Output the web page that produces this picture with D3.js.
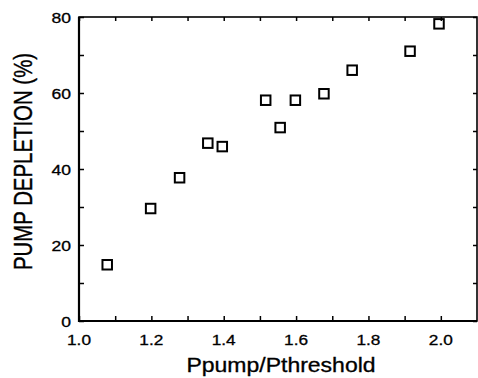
<!DOCTYPE html>
<html>
<head>
<meta charset="utf-8">
<script src="https://cdn.jsdelivr.net/npm/d3@7"></script>
<style>
  body { margin: 0; background: #fff; }
  svg { display: block; font-family: "Liberation Sans", Arial, sans-serif; }
  text { stroke: #000; stroke-width: 0.3; }
</style>
</head>
<body>
<svg></svg>
<script>
// data
var ratio     = [1.078, 1.198, 1.278, 1.356, 1.396, 1.516, 1.556, 1.598, 1.677, 1.755, 1.915, 1.995];
var depletion = [14.8, 29.6, 37.7, 46.8, 45.9, 58.1, 50.9, 58.1, 59.8, 66.0, 71.0, 78.2];
var xTicks = [1.0, 1.2, 1.4, 1.6, 1.8, 2.0];
var yTicks = [0, 20, 40, 60, 80];

var W = 478, H = 378;
var svg = d3.select("svg").attr("width", W).attr("height", H);

var x = d3.scaleLinear().domain([1.0, 2.1]).range([79, 477]);
var y = d3.scaleLinear().domain([0, 80]).range([321, 17]);

var xMinor = d3.range(10, 21).map(function(d){ return d / 10; });
var yMinor = d3.range(0, 81, 10);

function clean(g){
    g.select(".domain").remove();
    g.selectAll("line").attr("stroke-width", 1.5);
}

// inward ticks on all four sides
svg.append("g").attr("transform", "translate(0,321)")
    .call(d3.axisTop(x).tickValues(xMinor).tickSize(5).tickFormat("")).call(clean);
svg.append("g").attr("transform", "translate(0,17)")
    .call(d3.axisBottom(x).tickValues(xMinor).tickSize(4).tickFormat("")).call(clean);
svg.append("g").attr("transform", "translate(79,0)")
    .call(d3.axisRight(y).tickValues(yMinor).tickSize(5).tickFormat("")).call(clean);
svg.append("g").attr("transform", "translate(477,0)")
    .call(d3.axisLeft(y).tickValues(yMinor).tickSize(4).tickFormat("")).call(clean);

// frame
svg.append("rect")
    .attr("x", x(1.0)).attr("y", y(80))
    .attr("width", x(2.1) - x(1.0)).attr("height", y(0) - y(80))
    .attr("fill", "none").attr("stroke", "#000").attr("stroke-width", 1.6);
svg.append("path")
    .attr("d", "M" + x(1.0) + "," + y(80) + "V" + y(0) + "H" + x(2.1))
    .attr("fill", "none").attr("stroke", "#000").attr("stroke-width", 2.2);

// tick labels (scan is a bit wide, so stretch text horizontally)
svg.append("g").selectAll("text").data(xTicks).enter().append("text")
    .attr("transform", function(d){ return "translate(" + x(d) + ",345) scale(1.15,1)"; })
    .attr("text-anchor", "middle")
    .attr("font-size", 15)
    .text(function(d){ return d.toFixed(1); });
svg.append("g").selectAll("text").data(yTicks).enter().append("text")
    .attr("transform", function(d){ return "translate(71," + (y(d) + 5.5) + ") scale(1.17,1)"; })
    .attr("text-anchor", "end")
    .attr("font-size", 15)
    .text(function(d){ return d; });

// axis titles
svg.append("text")
    .attr("transform", "translate(281,372) scale(1.18,1)")
    .attr("text-anchor", "middle")
    .attr("font-size", 19.5)
    .text("Ppump/Pthreshold");
svg.append("text")
    .attr("transform", "translate(32,161.5) scale(1.3,1) rotate(-90)")
    .attr("text-anchor", "middle")
    .attr("font-size", 20.4)
    .text("PUMP DEPLETION (%)");

// open square markers
var s = 9.5;
svg.append("g").selectAll("rect").data(ratio).enter().append("rect")
    .attr("x", function(d){ return x(d) - s / 2; })
    .attr("y", function(d, i){ return y(depletion[i]) - s / 2; })
    .attr("width", s).attr("height", s)
    .attr("fill", "none").attr("stroke", "#000").attr("stroke-width", 2);
</script>
</body>
</html>
